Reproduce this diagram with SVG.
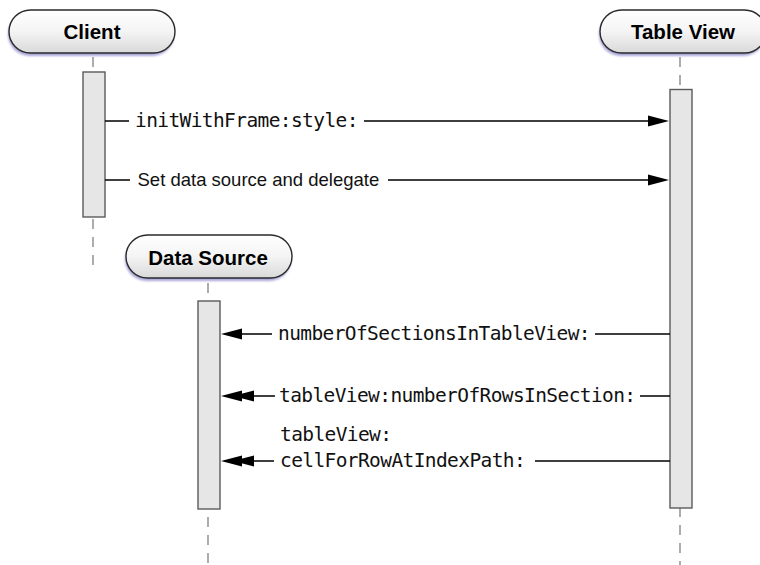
<svg xmlns="http://www.w3.org/2000/svg" width="760" height="565" viewBox="0 0 760 565">
<style>
.pill{fill:url(#pg);stroke:#2a2a2a;stroke-width:1.4}
.shadow{fill:#8c88cc;opacity:0.75;filter:url(#blur)}
.lbl{font-family:"Liberation Sans",Arial,sans-serif;font-weight:bold;font-size:20.5px;fill:#000;text-anchor:middle}
.life{stroke:#8a8a8a;stroke-width:1.4;stroke-dasharray:10 8;fill:none}
.bar{fill:#e6e6e6;stroke:#5a5a5a;stroke-width:1.4}
.msg{stroke:#000;stroke-width:1.7;fill:none}
.mono{font-family:"DejaVu Sans Mono","Liberation Mono",monospace;font-size:19.5px;letter-spacing:-0.6px;fill:#111}
.sans{font-family:"Liberation Sans",Arial,sans-serif;font-size:18.5px;fill:#111}
</style>
<defs>
<linearGradient id="pg" x1="0" y1="0" x2="0" y2="1">
<stop offset="0" stop-color="#ffffff"/>
<stop offset="0.5" stop-color="#f4f4f4"/>
<stop offset="1" stop-color="#d9d9d9"/>
</linearGradient>
<filter id="blur" x="-10%" y="-30%" width="120%" height="160%"><feGaussianBlur stdDeviation="1.2"/></filter>
<path id="headR" d="M0,0 L-21,-5.5 L-21,5.5 Z" fill="#000"/>
<path id="headL" d="M0,0 L21,-5.5 L21,5.5 Z" fill="#000"/>
</defs>

<g id="lifelines">
<line class="life" x1="93" y1="57" x2="93" y2="272"/>
<line class="life" x1="680" y1="57" x2="680" y2="565"/>
<line class="life" x1="208" y1="283" x2="208" y2="565"/>
</g>

<g id="client">
<rect class="shadow" x="8" y="13" width="166" height="43" rx="21.5"/>
<rect class="pill" x="9" y="10" width="166" height="43" rx="21.5"/>
<text class="lbl" x="92" y="39.3">Client</text>
<rect class="bar" x="83" y="72" width="22" height="145"/>
</g>

<g id="tableview">
<rect class="shadow" x="599" y="13" width="166" height="43" rx="21.5"/>
<rect class="pill" x="600" y="10" width="166" height="43" rx="21.5"/>
<text class="lbl" x="683" y="39.3">Table View</text>
<rect class="bar" x="670" y="89.5" width="22" height="418.5"/>
</g>

<g id="datasource">
<rect class="shadow" x="125" y="238" width="166" height="43" rx="21.5"/>
<rect class="pill" x="126" y="235" width="166" height="43" rx="21.5"/>
<text class="lbl" x="208" y="264.5">Data Source</text>
<rect class="bar" x="198" y="301" width="22" height="208"/>
</g>

<g id="connectors">
<path class="msg" d="M105,121 H129 M364,121 H650"/>
<use href="#headR" x="669" y="121"/>
<text class="mono" x="135" y="126.5">initWithFrame:style:</text>

<path class="msg" d="M105,180 H130 M388,180 H650"/>
<use href="#headR" x="669" y="180"/>
<text class="sans" x="137.5" y="186">Set data source and delegate</text>

<path class="msg" d="M670,334 H595 M272,334 H240"/>
<use href="#headL" x="221" y="334"/>
<text class="mono" x="278" y="340">numberOfSectionsInTableView:</text>

<path class="msg" d="M670,396 H640 M275,396 H252"/>
<use href="#headL" x="221" y="396"/>
<use href="#headL" x="233" y="396"/>
<text class="mono" x="279" y="401.5">tableView:numberOfRowsInSection:</text>

<path class="msg" d="M670,461 H535 M274,461 H252"/>
<use href="#headL" x="221" y="461"/>
<use href="#headL" x="233" y="461"/>
<text class="mono" x="280" y="440.5">tableView:</text>
<text class="mono" x="280" y="466.5">cellForRowAtIndexPath:</text>
</g>
</svg>
